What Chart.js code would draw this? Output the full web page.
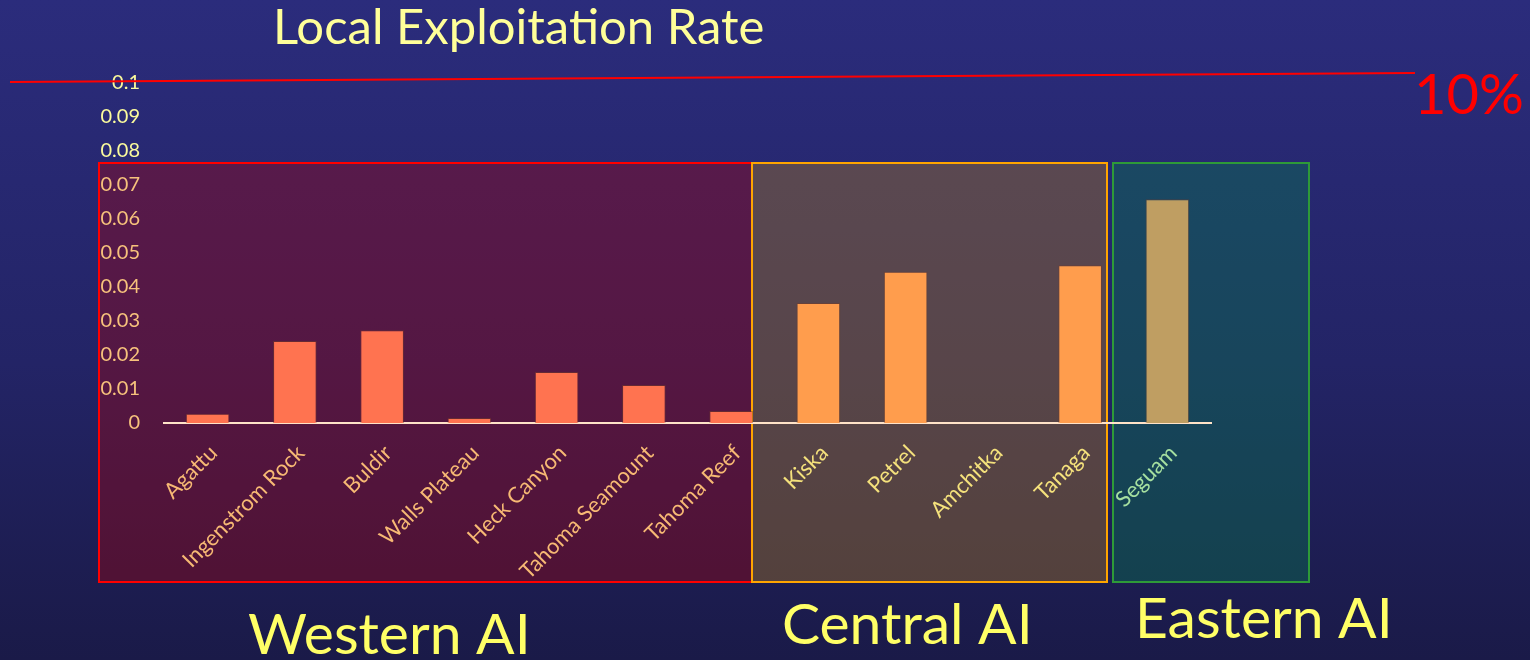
<!DOCTYPE html>
<html>
<head>
<meta charset="utf-8">
<script src="https://cdn.jsdelivr.net/npm/chart.js@4/dist/chart.umd.min.js"></script>
<style>
  html, body { margin: 0; padding: 0; }
  body {
    width: 1530px; height: 660px; overflow: hidden;
    background: linear-gradient(to bottom, #2b2c7c 0%, #232466 55%, #1a1a48 100%);
  }
  canvas { display: block; }
</style>
</head>
<body>
<canvas id="ctx" width="1530" height="660"></canvas>
<script>
// sites along the Aleutian Islands, west to east
const sites = ['Agattu', 'Ingenstrom Rock', 'Buldir', 'Walls Plateau', 'Heck Canyon',
  'Tahoma Seamount', 'Tahoma Reef', 'Kiska', 'Petrel', 'Amchitka', 'Tanaga', 'Seguam'];
const exploitRate = [0.0027, 0.0241, 0.0273, 0.0015, 0.0150, 0.0112, 0.0035,
  0.0353, 0.0445, 0, 0.0464, 0.0658];
// which region each site falls in
const siteRegion = ['W', 'W', 'W', 'W', 'W', 'W', 'W', 'C', 'C', 'C', 'C', 'E'];
const regionNames = { W: 'Western AI', C: 'Central AI', E: 'Eastern AI' };
const yTicks = [0, 0.01, 0.02, 0.03, 0.04, 0.05, 0.06, 0.07, 0.08, 0.09, 0.1];
const targetRate = 0.1;

const barColor = { W: '#ff7350', C: '#ff9d4d', E: '#bf9e62' };
const labelColor = { W: '#f7b974', C: '#f5e27c', E: '#a6e0a0' };
const FONT = 'Lato, "Open Sans", sans-serif';

// the hand drawn boxes / labels of the slide
const decor = {
  id: 'decor',
  beforeDraw(chart) {
    const c = chart.ctx;
    c.save();
    const boxes = [
      [99, 163, 653, 419, 'rgba(179,0,4,0.35)', '#ff0000'],
      [752, 163, 355, 419, 'rgba(167,119,32,0.40)', '#ffa500'],
      [1113, 163, 196, 419, 'rgba(8,120,78,0.40)', '#2e9a38']
    ];
    boxes.forEach(b => {
      c.fillStyle = b[4];
      c.fillRect(b[0], b[1], b[2], b[3]);
      c.strokeStyle = b[5];
      c.lineWidth = 2;
      c.strokeRect(b[0], b[1], b[2], b[3]);
    });
    c.restore();
  },
  afterDraw(chart) {
    const c = chart.ctx;
    c.save();
    c.textBaseline = 'alphabetic';
    c.textAlign = 'left';

    c.fillStyle = '#ffff99';
    c.font = '49px ' + FONT;
    c.fillText('Local Exploitation Rate', 273, 44);

    // 10% line
    const y10 = chart.scales.y.getPixelForValue(targetRate);
    c.strokeStyle = '#ff0000';
    c.lineWidth = 2;
    c.beginPath();
    c.moveTo(10, y10 - 1);
    c.lineTo(1415, y10 - 10);
    c.stroke();
    c.fillStyle = '#ff0000';
    c.font = '56px ' + FONT;
    c.fillText('10%', 1414, 114);

    c.fillStyle = '#ffff66';
    c.font = '57px ' + FONT;
    c.fillText(regionNames.W, 248, 654);
    c.fillText(regionNames.C, 782, 644);
    c.fillText(regionNames.E, 1135, 638);
    c.restore();
  }
};

const config = {
  type: 'bar',
  data: {
    labels: sites,
    datasets: [{
      label: 'Local Exploitation Rate',
      data: exploitRate,
      backgroundColor: siteRegion.map(r => barColor[r]),
      borderColor: 'rgba(120,60,40,0.5)',
      borderWidth: 1,
      barPercentage: 0.5,
      categoryPercentage: 1
    }]
  },
  options: {
    responsive: false,
    animation: false,
    layout: { padding: { left: 90, right: 319, top: 83, bottom: 37 } },
    plugins: {
      legend: { display: false },
      title: { display: false },
      tooltip: { enabled: false }
    },
    scales: {
      x: {
        grid: { display: false, drawTicks: false },
        border: { display: true, color: '#ffe3c8', width: 2 },
        afterFit(s) { s.height = 200; },
        ticks: {
          autoSkip: false,
          minRotation: 45,
          maxRotation: 45,
          padding: 17,
          labelOffset: 6,
          color: ctx => labelColor[siteRegion[ctx.index]],
          font: { family: FONT, size: 22 }
        }
      },
      y: {
        min: 0,
        max: 0.1,
        afterFit(s) { s.width = 74; },
        afterBuildTicks(s) { s.ticks = yTicks.map(v => ({ value: v })); },
        grid: { display: false, drawTicks: false },
        border: { display: false },
        ticks: {
          padding: 24,
          color: ctx => (ctx.tick && ctx.tick.value > 0.075 ? '#fbfb9c' : '#f7c27c'),
          font: { family: FONT, size: 20 },
          callback: v => String(+v.toFixed(2))
        }
      }
    }
  },
  plugins: [decor]
};

new Chart(document.getElementById('ctx').getContext('2d'), config);
</script>
</body>
</html>
